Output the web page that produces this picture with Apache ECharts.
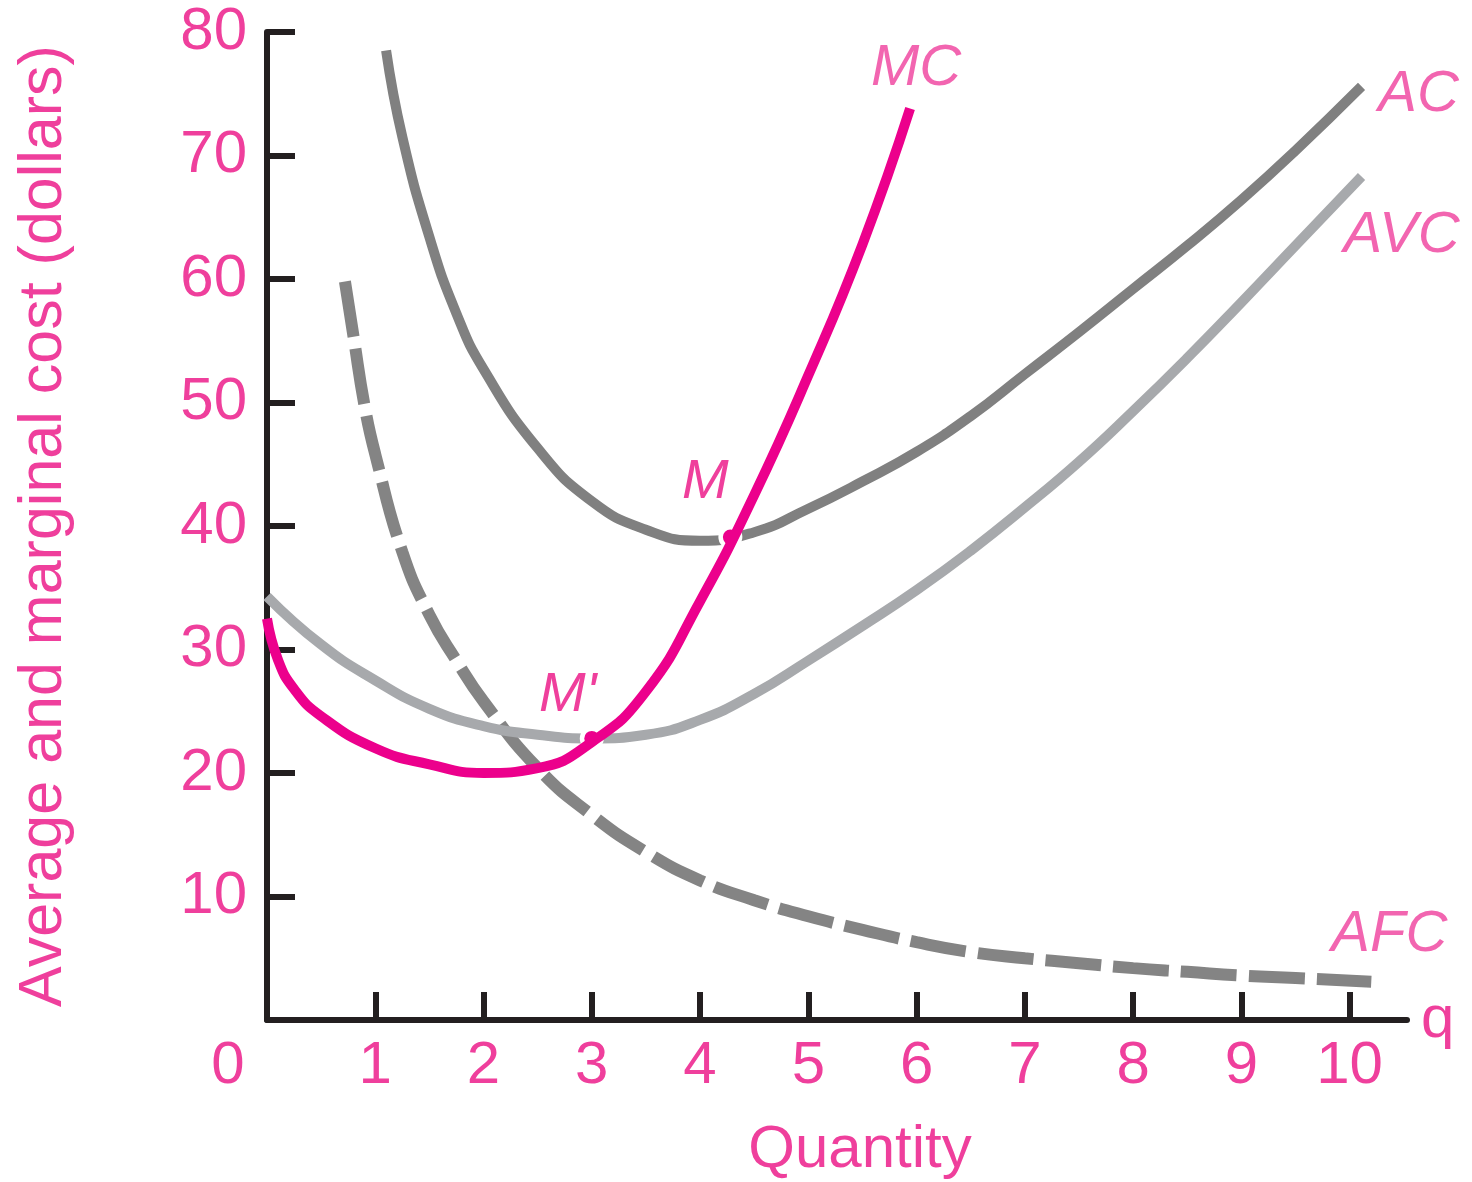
<!DOCTYPE html>
<html><head><meta charset="utf-8">
<script src="https://cdn.jsdelivr.net/npm/echarts@6/dist/echarts.min.js"></script>
<style>html,body{margin:0;padding:0;background:#fff}#c{width:1472px;height:1182px}</style>
</head><body><div id="c"></div>
<script>
// ---- data ----
const xTickValues = [0,1,2,3,4,5,6,7,8,9,10];
const yTickValues = [0,10,20,30,40,50,60,70,80];

const qMC = [0, 0.1, 0.25, 0.5, 1.0, 1.5, 2.0, 2.5, 3.0, 3.5, 4.0, 4.5, 5.0, 5.5, 5.94];
const vMC = [32.5, 29.2, 26.8, 24.6, 22.0, 20.7, 20.0, 20.4, 22.5, 26.6, 33.9, 42.5, 52.2, 62.8, 73.8];

const qAVC = [0, 0.5, 1.0, 1.5, 2.0, 2.5, 3.0, 3.5, 4.0, 4.5, 5.0, 5.5, 6.0, 6.5, 7.0, 7.5, 8.0, 8.5, 9.0, 9.5, 10.11];
const vAVC = [34.3, 30.4, 27.5, 25.2, 23.8, 23.1, 22.8, 23.1, 24.3, 26.4, 29.1, 31.9, 34.8, 38.0, 41.5, 45.2, 49.3, 53.6, 58.1, 62.7, 68.3];

const qAC = [1.1, 1.25, 1.5, 1.75, 2.0, 2.5, 3.0, 3.5, 4.0, 4.5, 5.0, 5.5, 6.0, 6.5, 7.0, 7.5, 8.0, 8.5, 9.0, 9.5, 10.11];
const vAC = [78.5, 71.5, 63.4, 57.2, 52.7, 46.3, 42.0, 39.7, 38.8, 39.5, 41.4, 43.6, 46.0, 48.9, 52.3, 55.7, 59.2, 62.7, 66.4, 70.4, 75.6];

const qAFC = [0.72, 0.8, 0.9, 1.0, 1.25, 1.5, 1.75, 2.0, 2.5, 3.0, 3.5, 4.0, 4.5, 5.0, 5.5, 6.0, 6.5, 7.0, 7.5, 8.0, 8.5, 9.0, 9.5, 10.2];
const vAFC = [59.8, 55.3, 49.8, 45.8, 37.9, 32.8, 29.1, 25.8, 20.4, 16.6, 13.6, 11.3, 9.7, 8.4, 7.3, 6.3, 5.5, 5.0, 4.6, 4.2, 3.9, 3.6, 3.4, 3.1];

const pointNames = ['M', "M'"];
const pointQ = [4.28, 3.0];
const pointV = [39.1, 22.8];

const curveNames = ['MC', 'AC', 'AVC', 'AFC'];

// ---- styles ----
const PINK = '#ec008c';
const TXT = '#ef3f9c';
const AXIS = '#231f20';
const FONT = 'Liberation Sans';

const zip = (a, b) => a.map((x, i) => [x, b[i]]);
const last = (q, v) => [q[q.length - 1], v[v.length - 1]];

const chart = echarts.init(document.getElementById('c'));

const labelOffsets = { MC: [6, -40], AC: [57, 9], AVC: [40, 59], AFC: [18, -47] };
const curveEnds = { MC: last(qMC, vMC), AC: last(qAC, vAC), AVC: last(qAVC, vAVC), AFC: last(qAFC, vAFC) };
const pointOffsets = { 'M': [-25, -55], "M'": [-24, -43] };

const lineCommon = { type: 'line', smooth: 0.5, showSymbol: false };

const option = {
  animation: false,
  backgroundColor: '#fff',
  grid: { left: 267, right: 65, top: 32, bottom: 162, containLabel: false, outerBoundsMode: 'none' },
  xAxis: {
    type: 'value', min: 0, max: 10.53, interval: 1,
    axisLine: { show: true, lineStyle: { color: AXIS, width: 6 } },
    axisTick: { show: true, inside: true, length: 28, lineStyle: { color: AXIS, width: 6 }, customValues: xTickValues.slice(1) },
    splitLine: { show: false },
    axisLabel: {
      customValues: xTickValues,
      margin: 16, fontSize: 60, fontFamily: FONT, color: TXT,
      formatter: v => v === 0 ? '{z|0}' : String(v),
      rich: { z: { padding: [0, 78, 0, 0], fontSize: 60, fontFamily: FONT, color: TXT } }
    },
    name: 'q', nameLocation: 'end', nameGap: 14,
    nameTextStyle: { fontSize: 60, fontFamily: FONT, color: TXT, padding: [0, 0, 10, 0] }
  },
  yAxis: {
    type: 'value', min: 0, max: 80, interval: 10,
    axisLine: { show: true, lineStyle: { color: AXIS, width: 6 } },
    axisTick: { show: true, inside: true, length: 28, lineStyle: { color: AXIS, width: 6 } },
    splitLine: { show: false },
    axisLabel: {
      margin: 20, fontSize: 60, fontFamily: FONT, color: TXT,
      formatter: v => v === 0 ? '' : String(v)
    },
    name: 'Average and marginal cost (dollars)', nameLocation: 'middle', nameGap: 192,
    nameTextStyle: { fontSize: 61, fontFamily: FONT, color: TXT }
  },
  graphic: [{
    type: 'text', x: 860, y: 1150, silent: true,
    style: { text: 'Quantity', align: 'center', verticalAlign: 'middle', fontSize: 60, fontFamily: FONT, fill: TXT }
  }],
  series: [
    Object.assign({ name: 'AFC', data: zip(qAFC, vAFC), z: 2,
      lineStyle: { color: '#848484', width: 12, type: [56, 12] } }, lineCommon),
    Object.assign({ name: 'AVC', data: zip(qAVC, vAVC), z: 2,
      lineStyle: { color: '#a7a9ac', width: 10 } }, lineCommon),
    Object.assign({ name: 'AC', data: zip(qAC, vAC), z: 2,
      lineStyle: { color: '#808080', width: 10 } }, lineCommon),
    { name: 'halo', type: 'scatter', data: zip(pointQ, pointV), symbolSize: 24, z: 3, silent: true,
      itemStyle: { color: '#fff', opacity: 1 } },
    Object.assign({ name: 'MC', data: zip(qMC, vMC), z: 4,
      lineStyle: { color: PINK, width: 10 } }, lineCommon),
    { name: 'points', type: 'scatter', z: 5, silent: true, symbolSize: 15,
      itemStyle: { color: PINK, opacity: 1 },
      data: pointNames.map((n, i) => ({ name: n, value: [pointQ[i], pointV[i]],
        label: { show: true, position: 'inside', offset: pointOffsets[n], formatter: n,
          fontSize: 56, fontStyle: 'italic', fontFamily: FONT, color: TXT } })) },
    { name: 'curveLabels', type: 'scatter', z: 6, silent: true, symbolSize: 1,
      itemStyle: { color: 'rgba(0,0,0,0)' },
      data: curveNames.map(n => ({ name: n, value: curveEnds[n],
        label: { show: true, position: 'inside', offset: labelOffsets[n], formatter: n,
          fontSize: 58, fontStyle: 'italic', fontFamily: FONT, color: TXT } })) }
  ]
};
chart.setOption(option);
</script>
</body></html>
